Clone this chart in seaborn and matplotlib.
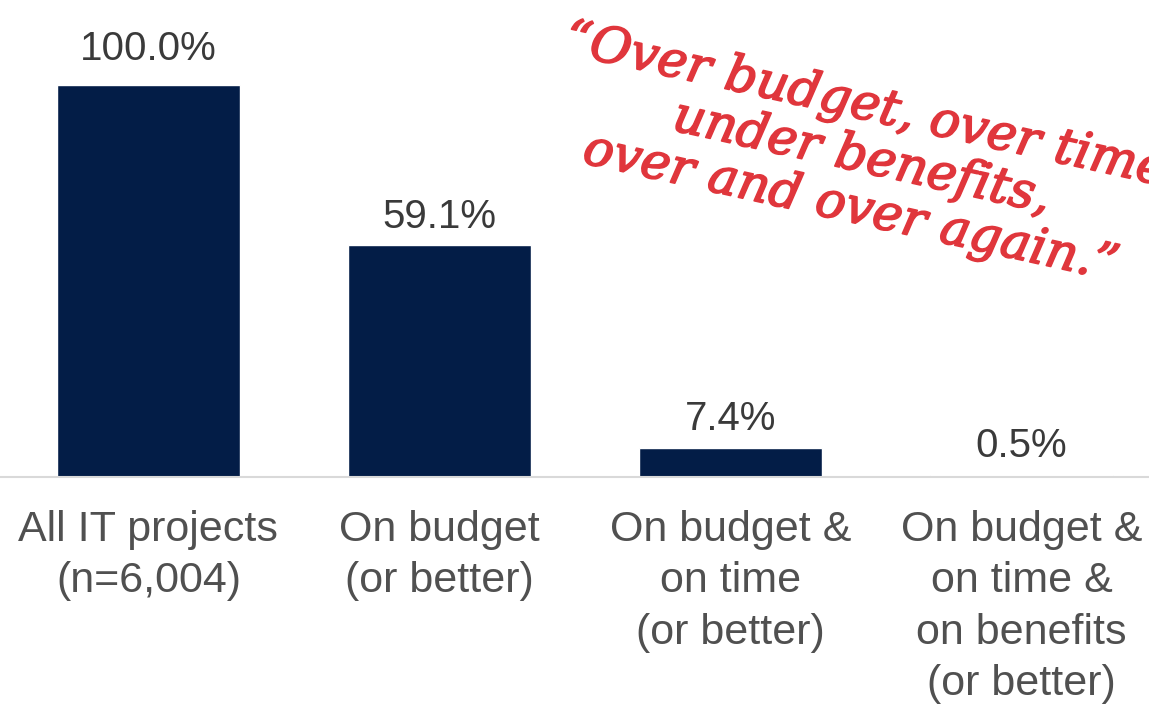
import matplotlib
matplotlib.use("Agg")
import matplotlib.pyplot as plt
import matplotlib.patheffects as pe
import seaborn as sns
import pandas as pd

categories = ["All IT projects\n(n=6,004)", "On budget\n(or better)",
              "On budget &\non time\n(or better)",
              "On budget &\non time &\non benefits\n(or better)"]
values = [100.0, 59.1, 7.4, 0.5]
value_labels = ["100.0%", "59.1%", "7.4%", "0.5%"]
quote = "\u201cOver budget, over time,\nunder benefits,\nover and over again.\u201d"

sns.set_theme(style="white")
plt.rcParams['font.family'] = ['Liberation Sans', 'DejaVu Sans']

df = pd.DataFrame({"cat": categories, "val": values})

fig = plt.figure(figsize=(11.49, 7.06), dpi=100)
ax = fig.add_axes([0, 1 - 477 / 706, 1, 477 / 706])
sns.barplot(data=df, x="cat", y="val", color="#031d47", saturation=1,
            width=0.63, ax=ax)

ax.set_xlim(-0.51, 3.438)
ax.set_ylim(0, 121.7)
ax.set_xlabel("")
ax.set_ylabel("")
ax.set_yticks([])
for s in ["top", "right", "left"]:
    ax.spines[s].set_visible(False)
ax.spines["bottom"].set_color("#d9d9d9")
ax.spines["bottom"].set_linewidth(1.5)
ax.tick_params(axis="x", length=0, pad=24, labelsize=31, labelcolor="#505050")
for lbl in ax.get_xticklabels():
    lbl.set_linespacing(1.36)

for i, (v, t) in enumerate(zip(values, value_labels)):
    ax.annotate(t, (i, v), xytext=(0, 7 if v < 99 else 12), textcoords="offset points",
                ha="center", va="bottom", fontsize=29, color="#3a3a3a")

fig.text(862 / 1149, 1 - 158 / 706, quote, rotation=-12.5, ha="center", va="center",
         rotation_mode="anchor", multialignment="center",
         fontsize=36, color="#e0363c", family="DejaVu Serif", style="italic",
         fontweight="normal", linespacing=1.05,
         path_effects=[pe.withStroke(linewidth=1.2, foreground="#e0363c")])

fig.savefig("out.png", dpi=100)
